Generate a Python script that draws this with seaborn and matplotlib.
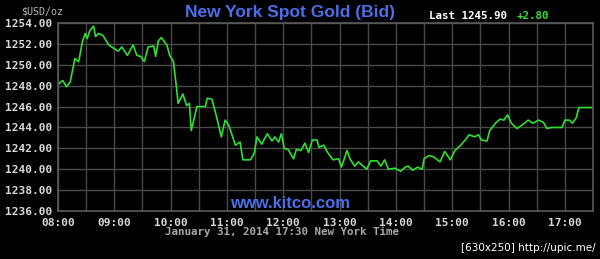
import matplotlib
matplotlib.use("Agg")
import matplotlib.pyplot as plt
import seaborn as sns
import pandas as pd
import numpy as np

times = ["08:00","08:05","08:09","08:13","08:18","08:22","08:26","08:29","08:31","08:34",
         "08:38","08:40","08:43","08:48","08:54","08:59","09:04","09:08","09:14","09:20",
         "09:24","09:28","09:32","09:36","09:42","09:44","09:47","09:50","09:56","09:59",
         "10:03","10:06","10:08","10:13","10:17","10:20","10:22","10:28","10:37","10:39",
         "10:44","10:49","10:54","10:58","11:02","11:09","11:14","11:17","11:25","11:29",
         "11:32","11:37","11:43","11:48","11:51","11:55","11:58","12:01","12:05","12:11",
         "12:14","12:19","12:23","12:27","12:31","12:36","12:38","12:43","12:48","12:53",
         "12:59","13:02","13:08","13:11","13:16","13:20","13:25","13:29","13:33","13:40",
         "13:44","13:48","13:52","13:59","14:05","14:10","14:13","14:18","14:23","14:28",
         "14:30","14:35","14:40","14:47","14:52","14:58","15:03","15:08","15:14","15:18",
         "15:24","15:28","15:31","15:37","15:40","15:46","15:51","15:55","15:59","16:03",
         "16:09","16:14","16:21","16:26","16:32","16:37","16:41","16:46","16:51","16:57",
         "17:00","17:05","17:08","17:12","17:15","17:30"]
prices = [1248.1,1248.5,1247.9,1248.35,1250.6,1250.3,1252.2,1253.0,1252.5,1253.3,
          1253.7,1252.7,1253.0,1252.8,1251.9,1251.6,1251.3,1251.7,1250.9,1251.9,
          1250.9,1250.8,1250.3,1251.7,1251.8,1250.8,1252.3,1252.6,1251.9,1250.9,
          1250.3,1248.0,1246.3,1247.2,1246.1,1246.3,1243.7,1246.0,1246.0,1246.8,
          1246.7,1245.0,1243.1,1244.7,1244.2,1242.3,1242.6,1240.9,1240.9,1241.5,
          1243.1,1242.4,1243.4,1242.7,1243.1,1242.6,1243.4,1242.0,1241.9,1241.0,
          1241.9,1241.8,1242.5,1241.6,1242.8,1242.8,1242.1,1242.3,1241.5,1240.9,
          1241.0,1240.2,1241.8,1241.0,1240.3,1240.7,1240.3,1240.0,1240.8,1240.8,
          1240.3,1240.9,1240.0,1240.1,1239.8,1240.2,1240.3,1239.9,1240.2,1240.0,
          1241.0,1241.3,1241.2,1240.7,1241.7,1240.9,1241.8,1242.2,1242.8,1243.3,
          1243.1,1243.3,1242.8,1242.7,1243.7,1244.4,1244.8,1244.7,1245.2,1244.4,
          1243.9,1244.2,1244.7,1244.4,1244.7,1244.5,1243.9,1244.0,1244.0,1244.0,
          1244.7,1244.7,1244.4,1244.9,1245.9,1245.9]

x_tick_labels = ["08:00","09:00","10:00","11:00","12:00","13:00","14:00","15:00","16:00","17:00"]
y_ticks = [1236, 1238, 1240, 1242, 1244, 1246, 1248, 1250, 1252, 1254]

title = "New York Spot Gold (Bid)"
last_text = "Last 1245.90"
change_text = "+2.80"
unit_text = "$USD/oz"
date_text = "January 31, 2014 17:30 New York Time"
brand_text = "www.kitco.com"
credit_text = "[630x250] http://upic.me/"

def to_hours(s):
    h, m = s.split(":")
    return int(h) + int(m) / 60.0

df = pd.DataFrame({"hour": [to_hours(t) for t in times], "price": prices})

sns.set_style("dark", {"axes.facecolor": "black", "figure.facecolor": "black",
                       "axes.edgecolor": "#5a5a5a", "grid.color": "#4a4a4a"})
plt.rcParams["font.family"] = ["DejaVu Sans Mono", "DejaVu Sans"]

fig = plt.figure(figsize=(6.0, 2.59), dpi=100, facecolor="black")
ax = fig.add_axes([58/600, 1 - 211/259, (593-58)/600, (211-23)/259])
ax.set_facecolor("black")

sns.lineplot(data=df, x="hour", y="price", ax=ax, color="#2fe02f", linewidth=1.2)

ax.set_xlim(8.0, 17.5)
ax.set_ylim(1236, 1254)
ax.set_xticks([to_hours(t) for t in x_tick_labels])
ax.set_xticks(np.arange(8.5, 17.5, 1.0), minor=True)
ax.set_xticklabels(x_tick_labels)
ax.set_yticks(y_ticks)
ax.set_yticklabels([f"{v:.2f}" for v in y_ticks])
ax.grid(True, which="both", color="#4a4a4a", linewidth=1.0)
ax.set_axisbelow(True)
ax.tick_params(axis="both", which="both", length=0, colors="#d8d8d8", labelsize=8)
ax.tick_params(axis="x", pad=5)
ax.tick_params(axis="y", pad=4)
for lbl in ax.get_xticklabels() + ax.get_yticklabels():
    lbl.set_fontweight("bold")
for sp in ax.spines.values():
    sp.set_color("#5a5a5a")
    sp.set_linewidth(1.2)
ax.set_xlabel("")
ax.set_ylabel("")

def fx(x):
    return x / 600.0
def fy(y):
    return 1 - y / 259.0

fig.text(fx(290), fy(12), title, color="#4a6fe8", fontsize=12.5, fontweight="bold",
         family=["Liberation Sans", "DejaVu Sans"], ha="center", va="center")
fig.text(fx(429), fy(16), last_text, color="white", fontsize=7.8, fontweight="bold",
         ha="left", va="center")
fig.text(fx(517), fy(16), change_text, color="#33e033", fontsize=7.8, fontweight="bold",
         ha="left", va="center")
fig.text(fx(42), fy(11), unit_text, color="#b8b8b8", fontsize=7.2,
         ha="center", va="center")
fig.text(fx(282), fy(232), date_text, color="#a8a8a8", fontsize=7.8, fontweight="bold",
         ha="center", va="center")
fig.text(fx(290), fy(203), brand_text, color="#4a6fe8", fontsize=12, fontweight="bold",
         family=["Liberation Sans", "DejaVu Sans"], ha="center", va="center")
fig.text(fx(596), fy(248), credit_text, color="white", fontsize=7.5,
         family=["DejaVu Sans"], ha="right", va="center")

fig.savefig("out.png", dpi=100, facecolor="black")
